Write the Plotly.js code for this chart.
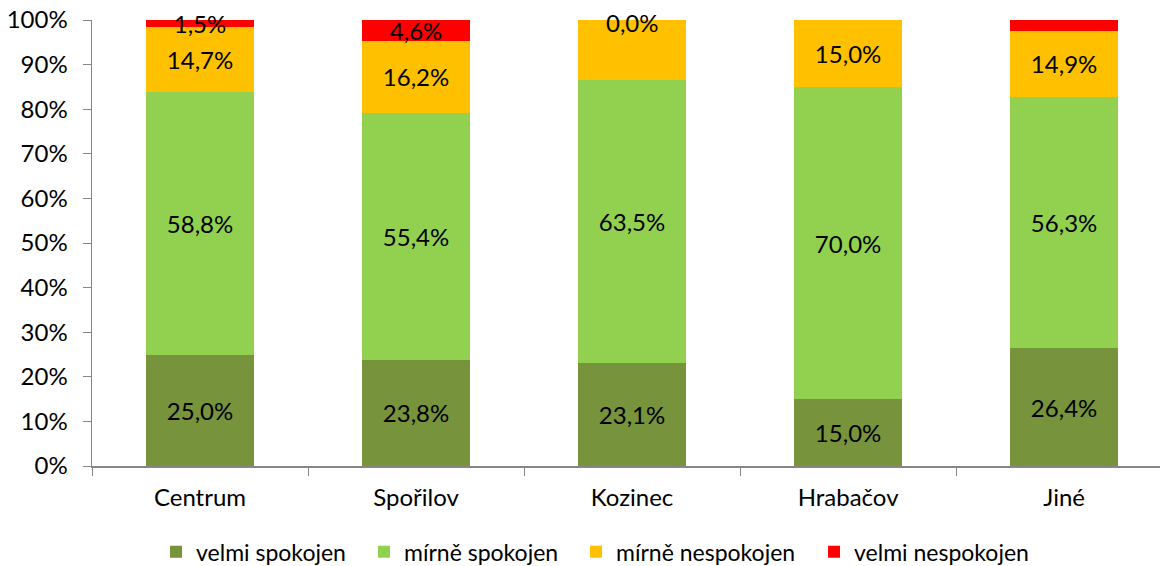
<!DOCTYPE html>
<html>
<head>
<meta charset="utf-8">
<script src="https://cdn.plot.ly/plotly-3.0.1.min.js"></script>
<style>html,body{margin:0;padding:0;background:#fff;}#chart{width:1160px;height:566px;}</style>
</head>
<body>
<div id="chart"></div>
<script>
const categories = ["Centrum", "Spořilov", "Kozinec", "Hrabačov", "Jiné"];
const seriesNames = ["velmi spokojen", "mírně spokojen", "mírně nespokojen", "velmi nespokojen"];
const velmiSpokojen = [25.0, 23.8, 23.1, 15.0, 26.4];
const mirneSpokojen = [58.8, 55.4, 63.5, 70.0, 56.3];
const mirneNespokojen = [14.7, 16.2, 13.5, 15.0, 14.9];
const velmiNespokojen = [1.5, 4.6, 0.0, 0.0, 2.4];
const velmiNespokojenLabels = ["1,5%", "4,6%", "0,0%", "", ""];
const colors = ["#77933C", "#92D050", "#FFC000", "#FF0000"];
const legendWidths = [163, 167, 193, 200];

const FONT = "Lato, 'Open Sans', sans-serif";
const fmt = v => v.toFixed(1).replace(".", ",") + "%";

const seriesValues = [velmiSpokojen, mirneSpokojen, mirneNespokojen, velmiNespokojen];
const labelSets = [velmiSpokojen.map(fmt), mirneSpokojen.map(fmt), mirneNespokojen.map(fmt), velmiNespokojenLabels];

const traces = seriesValues.map((vals, k) => ({
  type: "bar",
  name: seriesNames[k],
  x: categories,
  y: vals.map(v => v / 100),
  text: labelSets[k].map((t, i) => vals[i] > 0 ? t : ""),
  textposition: "inside",
  insidetextanchor: "middle",
  constraintext: "none",
  cliponaxis: false,
  textfont: {family: FONT, size: 24, color: "#000"},
  marker: {color: colors[k], line: {width: 0}},
  width: 0.5,
  legendwidth: legendWidths[k],
  hoverinfo: "skip"
}));

// labels of zero-height segments, placed at the stack top computed from data
const annotations = [];
velmiNespokojen.forEach((v, i) => {
  if (v === 0 && velmiNespokojenLabels[i]) {
    const total = Math.min(1, seriesValues.slice(0, 3).reduce((s, arr) => s + arr[i], 0) / 100);
    annotations.push({
      x: categories[i], y: total, xref: "x", yref: "y",
      text: velmiNespokojenLabels[i], showarrow: false,
      yanchor: "middle", yshift: -2, font: {family: FONT, size: 24, color: "#000"}
    });
  }
});

const layout = {
  width: 1160, height: 566,
  margin: {l: 92, r: 0, t: 20, b: 100},
  barmode: "stack",
  paper_bgcolor: "#fff", plot_bgcolor: "#fff",
  font: {family: FONT, size: 24, color: "#000"},
  showlegend: true,
  legend: {
    orientation: "h", xref: "container", yref: "container",
    x: 0.1345, xanchor: "left", y: 0.025, yanchor: "middle",
    font: {family: FONT, size: 23, color: "#000"},
    traceorder: "normal", itemwidth: 30
  },
  xaxis: {
    type: "category", range: [-0.5, 4.444],
    showline: true, linecolor: "#868686", linewidth: 1.5,
    ticks: "outside", tickson: "boundaries", ticklen: 8, tickcolor: "#868686",
    ticklabelstandoff: 10,
    showgrid: false, zeroline: false,
    tickfont: {family: FONT, size: 24, color: "#000"}
  },
  yaxis: {
    range: [0, 1], dtick: 0.1, tickformat: ".0%",
    showline: true, linecolor: "#868686", linewidth: 1.5,
    ticks: "outside", ticklen: 8, tickcolor: "#868686",
    ticklabelstandoff: 10,
    showgrid: false, zeroline: false,
    tickfont: {family: FONT, size: 24, color: "#000"}
  },
  annotations: annotations
};

Plotly.newPlot("chart", traces, layout, {displayModeBar: false, staticPlot: true});
</script>
</body>
</html>
